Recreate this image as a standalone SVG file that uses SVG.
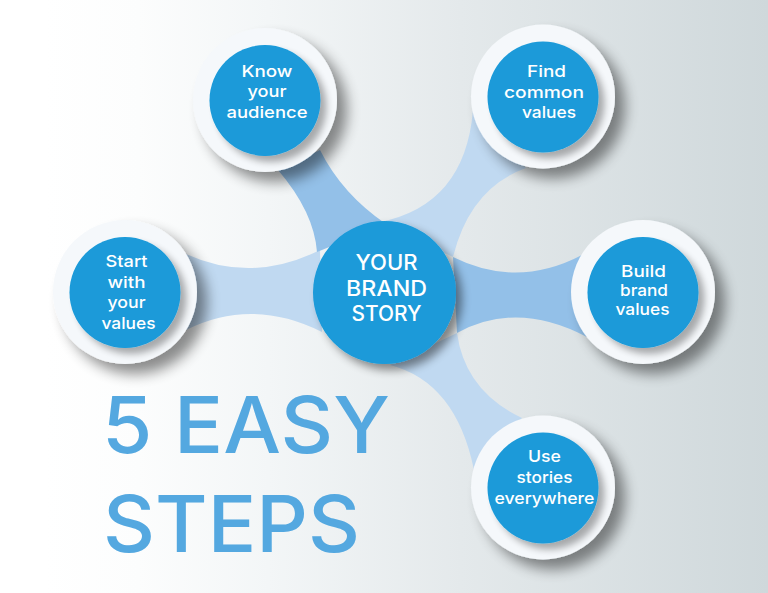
<svg xmlns="http://www.w3.org/2000/svg" width="768" height="593" viewBox="0 0 768 593">
<defs>
<linearGradient id="bg" x1="0" y1="0" x2="1" y2="0"><stop offset="0.06" stop-color="#ffffff"/><stop offset="0.18" stop-color="#fcfdfd"/><stop offset="0.35" stop-color="#f3f6f7"/><stop offset="0.6" stop-color="#e4e9eb"/><stop offset="1" stop-color="#cfd8db"/></linearGradient>
<filter id="sh" x="-30%" y="-30%" width="170%" height="170%"><feGaussianBlur in="SourceAlpha" stdDeviation="7"/><feOffset dx="10" dy="10"/><feComponentTransfer><feFuncA type="linear" slope="0.45"/></feComponentTransfer><feMerge><feMergeNode/><feMergeNode in="SourceGraphic"/></feMerge></filter>
<filter id="sh2" x="-30%" y="-30%" width="170%" height="170%"><feGaussianBlur in="SourceAlpha" stdDeviation="3.500"/><feOffset dx="6" dy="6"/><feComponentTransfer><feFuncA type="linear" slope="0.32"/></feComponentTransfer><feMerge><feMergeNode/><feMergeNode in="SourceGraphic"/></feMerge></filter>
<filter id="sh3" x="-30%" y="-30%" width="170%" height="170%"><feGaussianBlur in="SourceAlpha" stdDeviation="5"/><feOffset dx="6" dy="6"/><feComponentTransfer><feFuncA type="linear" slope="0.45"/></feComponentTransfer><feMerge><feMergeNode/><feMergeNode in="SourceGraphic"/></feMerge></filter>
</defs>
<style>
.o{fill:#f5f8fb;filter:url(#sh)}
.i{fill:#1a9ad9;filter:url(#sh2)}
.c{fill:#1a9ad9;filter:url(#sh3)}
.d{fill:#93c0e8}
.l{fill:#c0d9f1}
text{font-family:Inter,"Liberation Sans",sans-serif;fill:#fff;text-anchor:middle;font-weight:500}
.t{font-size:16.500px}
.m{font-size:21px}
.h{font-size:78.500px;fill:#54a8e0;text-anchor:start;font-weight:500}
</style>
<rect width="768" height="593" fill="url(#bg)"/>
<g id="connectors">
<path class="l" d="M186 254Q252 284 320 250L322 332Q252 297 186 330Z"/>
<path class="d" d="M278 170Q314 212 317 252L386 224Q342 194 320 150Z"/>
<path class="l" d="M473 110Q465 205 380 222L453 257Q470 188 526 168Z"/>
<path class="d" d="M453 257Q517 289 582 255L587 337Q517 300 457 333Z"/>
<path class="l" d="M390 365Q456 382 474 470L522 418Q465 391 457 333Z"/>
</g>
<g id="node-start"><circle class="o" cx="125" cy="292" r="72"/><circle class="i" cx="125" cy="292.500" r="55.500"/>
<text class="t" x="126.500" y="267" textLength="42" lengthAdjust="spacingAndGlyphs">Start</text><text class="t" x="126.500" y="288" textLength="38" lengthAdjust="spacingAndGlyphs">with</text><text class="t" x="126.500" y="308" textLength="38" lengthAdjust="spacingAndGlyphs">your</text><text class="t" x="128.500" y="329" textLength="54" lengthAdjust="spacingAndGlyphs">values</text></g>
<g id="node-know"><circle class="o" cx="265" cy="100" r="72"/><circle class="i" cx="265" cy="100.500" r="55.500"/>
<text class="t" x="267" y="77" textLength="51" lengthAdjust="spacingAndGlyphs">Know</text><text class="t" x="267" y="97" textLength="39" lengthAdjust="spacingAndGlyphs">your</text><text class="t" x="267" y="118" textLength="81" lengthAdjust="spacingAndGlyphs">audience</text></g>
<g id="node-find"><circle class="o" cx="543" cy="96.500" r="72"/><circle class="i" cx="543" cy="97" r="55.500"/>
<text class="t" x="546.500" y="77" textLength="39" lengthAdjust="spacingAndGlyphs">Find</text><text class="t" x="544" y="98" textLength="80" lengthAdjust="spacingAndGlyphs">common</text><text class="t" x="549" y="118" textLength="54" lengthAdjust="spacingAndGlyphs">values</text></g>
<g id="node-build"><circle class="o" cx="643" cy="292" r="72"/><circle class="i" cx="643" cy="292.500" r="55.500"/>
<text class="t" x="643.500" y="277" textLength="45" lengthAdjust="spacingAndGlyphs">Build</text><text class="t" x="644" y="296" textLength="48" lengthAdjust="spacingAndGlyphs">brand</text><text class="t" x="642.500" y="315" textLength="54" lengthAdjust="spacingAndGlyphs">values</text></g>
<g id="node-use"><circle class="o" cx="543" cy="487.500" r="72"/><circle class="i" cx="543" cy="488" r="55.500"/>
<text class="t" x="544.500" y="462" textLength="33" lengthAdjust="spacingAndGlyphs">Use</text><text class="t" x="544.500" y="483" textLength="56" lengthAdjust="spacingAndGlyphs">stories</text><text class="t" x="544.500" y="504" textLength="100" lengthAdjust="spacingAndGlyphs">everywhere</text></g>
<g id="node-center"><circle class="c" cx="384.500" cy="292.500" r="71.500"/>
<text class="m" x="386.500" y="270" textLength="62" lengthAdjust="spacingAndGlyphs">YOUR</text><text class="m" x="386.500" y="296" textLength="81" lengthAdjust="spacingAndGlyphs">BRAND</text><text class="m" x="386.500" y="321" textLength="70" lengthAdjust="spacingAndGlyphs">STORY</text></g>
<g id="title"><text class="h" x="102" y="453" textLength="288" lengthAdjust="spacingAndGlyphs">5 EASY</text><text class="h" x="103" y="552" textLength="257" lengthAdjust="spacingAndGlyphs">STEPS</text></g>
</svg>
